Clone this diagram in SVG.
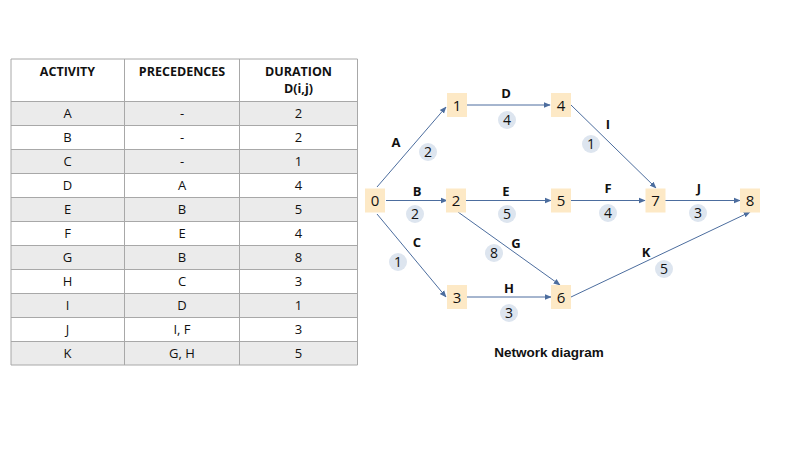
<svg xmlns="http://www.w3.org/2000/svg" width="800" height="450" viewBox="0 0 800 450">
<defs>
<style>
.t{font-family:"Open Sans","Liberation Sans",sans-serif;font-size:13px;fill:#111;text-anchor:middle}
.h{font-family:"Open Sans","Liberation Sans",sans-serif;font-size:12.5px;font-weight:bold;fill:#111;text-anchor:middle}
.g{fill:#ebebeb}
.grid{stroke:#a8a8a8;stroke-width:1;fill:none}
.node rect{fill:#fde9c6}
.node text{font-family:"Open Sans","Liberation Sans",sans-serif;font-size:15px;fill:#111;text-anchor:middle}
.lbl{font-family:"Open Sans","Liberation Sans",sans-serif;font-size:13px;font-weight:bold;fill:#111;text-anchor:middle}
.ttl{font-family:"Liberation Sans","Open Sans",sans-serif;font-size:13.5px;font-weight:bold;fill:#111;text-anchor:middle}
.dur circle{fill:#dde5ef}
.dur text{font-family:"Open Sans","Liberation Sans",sans-serif;font-size:14px;fill:#111;text-anchor:middle}
.edge{stroke:#4c6d9e;stroke-width:1;fill:none;marker-end:url(#ah)}
</style>
<marker id="ah" viewBox="0 0 10 10" refX="9" refY="5" markerWidth="7" markerHeight="7" markerUnits="userSpaceOnUse" orient="auto">
<path d="M0,1 L10,5 L0,9 Z" fill="#4c6d9e"/>
</marker>
</defs>
<rect width="800" height="450" fill="#fff"/>
<g id="table">
<rect class="g" x="11" y="101.5" width="346.5" height="24"/>
<rect class="g" x="11" y="149.5" width="346.5" height="24"/>
<rect class="g" x="11" y="197.5" width="346.5" height="24"/>
<rect class="g" x="11" y="245.5" width="346.5" height="24"/>
<rect class="g" x="11" y="293.5" width="346.5" height="24"/>
<rect class="g" x="11" y="341.5" width="346.5" height="23.5"/>
<path class="grid" d="M11,59H357.5V365H11Z M124.5,59V365 M239.5,59V365 M11,101.5H357.5 M11,125.5H357.5 M11,149.5H357.5 M11,173.5H357.5 M11,197.5H357.5 M11,221.5H357.5 M11,245.5H357.5 M11,269.5H357.5 M11,293.5H357.5 M11,317.5H357.5 M11,341.5H357.5"/>
<text class="h" x="67.5" y="76">ACTIVITY</text>
<text class="h" x="182" y="76">PRECEDENCES</text>
<text class="h" x="298.5" y="76">DURATION</text>
<text class="h" x="298.5" y="93">D(i,j)</text>
<g>
<text class="t" x="67.5" y="118">A</text><text class="t" x="182" y="118">-</text><text class="t" x="298.5" y="118">2</text>
<text class="t" x="67.5" y="142">B</text><text class="t" x="182" y="142">-</text><text class="t" x="298.5" y="142">2</text>
<text class="t" x="67.5" y="166">C</text><text class="t" x="182" y="166">-</text><text class="t" x="298.5" y="166">1</text>
<text class="t" x="67.5" y="190">D</text><text class="t" x="182" y="190">A</text><text class="t" x="298.5" y="190">4</text>
<text class="t" x="67.5" y="214">E</text><text class="t" x="182" y="214">B</text><text class="t" x="298.5" y="214">5</text>
<text class="t" x="67.5" y="238">F</text><text class="t" x="182" y="238">E</text><text class="t" x="298.5" y="238">4</text>
<text class="t" x="67.5" y="262">G</text><text class="t" x="182" y="262">B</text><text class="t" x="298.5" y="262">8</text>
<text class="t" x="67.5" y="286">H</text><text class="t" x="182" y="286">C</text><text class="t" x="298.5" y="286">3</text>
<text class="t" x="67.5" y="310">I</text><text class="t" x="182" y="310">D</text><text class="t" x="298.5" y="310">1</text>
<text class="t" x="67.5" y="334">J</text><text class="t" x="182" y="334">I, F</text><text class="t" x="298.5" y="334">3</text>
<text class="t" x="67.5" y="358">K</text><text class="t" x="182" y="358">G, H</text><text class="t" x="298.5" y="358">5</text>
</g>
</g>
<g id="connectors">
<path class="edge" d="M377,187L446,107"/>
<path class="edge" d="M386,200.5L447,200.5"/>
<path class="edge" d="M377,214L446,297"/>
<path class="edge" d="M467,105L550,105"/>
<path class="edge" d="M466,200.5L551,200.5"/>
<path class="edge" d="M458,212L560,285"/>
<path class="edge" d="M467,297L551,297"/>
<path class="edge" d="M571,105L656,188"/>
<path class="edge" d="M571,200.5L645,200.5"/>
<path class="edge" d="M665,200.5L740,200.5"/>
<path class="edge" d="M571,297L750,212"/>
</g>
<g id="edge-labels">
<text class="lbl" x="396" y="147">A</text>
<text class="lbl" x="417" y="196">B</text>
<text class="lbl" x="417" y="247">C</text>
<text class="lbl" x="506" y="98">D</text>
<text class="lbl" x="506" y="196">E</text>
<text class="lbl" x="608" y="193">F</text>
<text class="lbl" x="516" y="248">G</text>
<text class="lbl" x="509" y="293">H</text>
<text class="lbl" x="608" y="129">I</text>
<text class="lbl" x="699" y="193">J</text>
<text class="lbl" x="646" y="257">K</text>
</g>
<g id="durations" class="dur">
<circle cx="428" cy="152" r="9"/><text x="428" y="157">2</text>
<circle cx="507" cy="120" r="9"/><text x="507" y="125">4</text>
<circle cx="415" cy="214" r="9"/><text x="415" y="219">2</text>
<circle cx="507" cy="214" r="9"/><text x="507" y="219">5</text>
<circle cx="591" cy="144" r="9"/><text x="591" y="149">1</text>
<circle cx="608" cy="213" r="9"/><text x="608" y="218">4</text>
<circle cx="698" cy="213" r="9"/><text x="698" y="218">3</text>
<circle cx="398" cy="262" r="9"/><text x="398" y="267">1</text>
<circle cx="494" cy="253" r="9"/><text x="494" y="258">8</text>
<circle cx="509" cy="313" r="9"/><text x="509" y="318">3</text>
<circle cx="664" cy="269" r="9"/><text x="664" y="274">5</text>
</g>
<g id="n0" class="node"><rect x="365" y="188.5" width="20" height="24"/><text x="375" y="206">0</text></g>
<g id="n1" class="node"><rect x="447" y="93" width="20" height="24"/><text x="457" y="110.5">1</text></g>
<g id="n2" class="node"><rect x="446" y="188.5" width="20" height="24"/><text x="456" y="206">2</text></g>
<g id="n3" class="node"><rect x="447" y="285" width="20" height="24"/><text x="457" y="302.5">3</text></g>
<g id="n4" class="node"><rect x="551" y="93" width="20" height="24"/><text x="561" y="110.5">4</text></g>
<g id="n5" class="node"><rect x="551" y="188.5" width="20" height="24"/><text x="561" y="206">5</text></g>
<g id="n6" class="node"><rect x="551" y="285" width="20" height="24"/><text x="561" y="302.5">6</text></g>
<g id="n7" class="node"><rect x="645.5" y="188.5" width="20" height="24"/><text x="655.5" y="206">7</text></g>
<g id="n8" class="node"><rect x="740" y="188.5" width="20" height="24"/><text x="750" y="206">8</text></g>
<text class="ttl" x="549" y="357">Network diagram</text>
</svg>
